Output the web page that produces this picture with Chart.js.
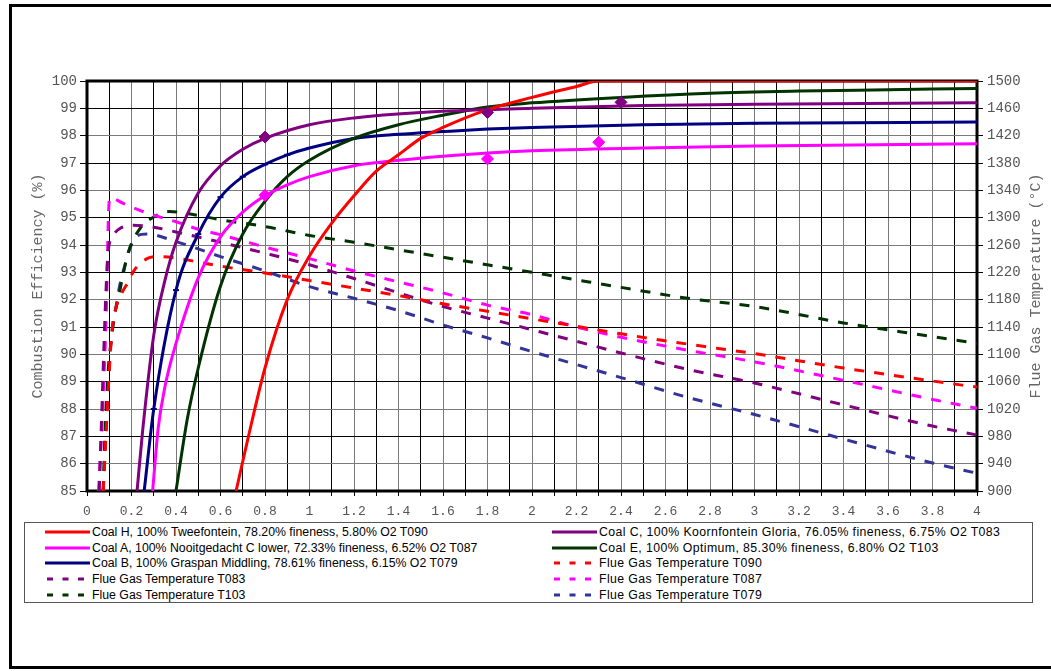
<!DOCTYPE html>
<html>
<head>
<meta charset="utf-8">
<script src="https://cdn.jsdelivr.net/npm/chart.js@4"></script>
<style>
html, body { margin: 0; padding: 0; background: #fff; overflow: hidden; }
#wrap { position: relative; width: 1051px; height: 671px; }
#frame { position: absolute; left: 9px; top: 4px; width: 1100px; height: 665px; border: 3px solid #000; box-sizing: border-box; pointer-events: none; }
#chart { position: absolute; left: 0; top: 0; }
#legend { position: absolute; left: 24px; top: 522px; width: 1009px; height: 81px; border: 1px solid #555; box-sizing: border-box;
  display: grid; grid-template-columns: 507px auto; grid-auto-rows: 15.6px; padding: 1.5px 0 0 20px;
  font: 12.3px "Liberation Sans", Arial, sans-serif; color: #000; background: #fff; }
.item { display: flex; align-items: center; white-space: nowrap; }
.item:nth-child(even) span { letter-spacing: 0.4px; }
.item svg { margin-right: 1px; flex: none; }
#rtitle { position: absolute; left: 1036px; top: 286px; transform: translate(-50%, -50%) rotate(-90deg);
  white-space: nowrap; font: 15px "Liberation Mono", "Courier New", monospace; color: #666; }
</style>
</head>
<body>
<div id="wrap">
  <canvas id="chart" width="1051" height="671"></canvas>
  <div id="legend"></div>
  <div id="rtitle">Flue Gas Temperature (°C)</div>
  <div id="frame"></div>
</div>
<script>
// Combustion efficiency (%) curves, left axis
const coalH_x = [0.67, 0.72, 0.8, 0.9, 1.0, 1.1, 1.2, 1.3, 1.4, 1.5, 1.6, 1.8, 2.0, 2.2, 2.3, 2.6, 3.0, 3.5, 4.0];
const coalH_y = [85, 86.8, 89.5, 92.0, 93.6, 94.8, 95.8, 96.7, 97.3, 97.9, 98.3, 98.95, 99.4, 99.8, 100, 100, 100, 100, 100];

const coalC_x = [0.225, 0.25, 0.3, 0.35, 0.4, 0.5, 0.6, 0.7, 0.8, 1.0, 1.2, 1.5, 2.0, 2.5, 3.0, 4.0];
const coalC_y = [85, 87.2, 90.7, 92.7, 94.1, 95.9, 96.9, 97.5, 97.9, 98.4, 98.65, 98.85, 99.0, 99.1, 99.15, 99.2];

const coalA_x = [0.295, 0.32, 0.35, 0.4, 0.5, 0.6, 0.7, 0.8, 0.9, 1.0, 1.2, 1.4, 1.6, 1.8, 2.0, 2.5, 3.0, 4.0];
const coalA_y = [85, 87.3, 88.8, 90.4, 92.8, 94.3, 95.2, 95.8, 96.2, 96.5, 96.9, 97.1, 97.25, 97.37, 97.45, 97.55, 97.62, 97.7];

const coalE_x = [0.4, 0.45, 0.5, 0.6, 0.7, 0.8, 0.9, 1.0, 1.2, 1.4, 1.6, 1.8, 2.0, 2.4, 2.8, 3.2, 3.6, 4.0];
const coalE_y = [85, 87.6, 89.5, 92.5, 94.4, 95.6, 96.5, 97.1, 97.9, 98.4, 98.75, 99.05, 99.2, 99.4, 99.55, 99.63, 99.68, 99.73];

const coalB_x = [0.257, 0.3, 0.4, 0.5, 0.6, 0.7, 0.8, 0.9, 1.0, 1.2, 1.4, 1.6, 1.8, 2.0, 2.5, 3.0, 4.0];
const coalB_y = [85, 88.0, 92.35, 94.4, 95.75, 96.5, 96.95, 97.3, 97.55, 97.9, 98.05, 98.15, 98.24, 98.3, 98.4, 98.45, 98.5];

// measured points (diamonds)
const coalC_pts_x = [0.8, 1.8, 2.4];
const coalC_pts_y = [97.95, 98.85, 99.22];
const coalA_pts_x = [0.8, 1.8, 2.3];
const coalA_pts_y = [95.82, 97.15, 97.76];

// Flue gas temperature (°C), right axis
const t090_x = [0.073, 0.085, 0.1, 0.112, 0.133, 0.16, 0.186, 0.21, 0.27, 0.32, 0.4, 0.5, 0.6, 0.8, 1.0, 1.2, 1.4, 1.6, 1.8, 2.0, 2.2, 2.4, 2.7, 3.0, 3.4, 3.8, 4.0];
const t090_y = [900, 980, 1075, 1133, 1172, 1192, 1206, 1222, 1240, 1243, 1241, 1235, 1229, 1219, 1208, 1197, 1186, 1174, 1163, 1152, 1141, 1130, 1115, 1101, 1080, 1061, 1052];

const t083_x = [0.055, 0.065, 0.075, 0.085, 0.095, 0.12, 0.148, 0.207, 0.3, 0.4, 0.6, 0.8, 1.0, 1.2, 1.4, 1.6, 1.8, 2.0, 2.2, 2.4, 2.7, 3.0, 3.4, 3.8, 4.0];
const t083_y = [900, 1000, 1100, 1190, 1250, 1275, 1284, 1289, 1286, 1279, 1264, 1248, 1231, 1211, 1190, 1170, 1153, 1136, 1119, 1102, 1078, 1058, 1026, 995, 982];

const t087_x = [0.052, 0.073, 0.088, 0.096, 0.103, 0.163, 0.268, 0.4, 0.5, 0.6, 0.8, 1.0, 1.2, 1.4, 1.6, 1.8, 2.0, 2.2, 2.4, 2.7, 3.0, 3.4, 3.8, 4.0];
const t087_y = [900, 1040, 1177, 1300, 1329, 1321, 1307, 1294, 1283, 1275, 1257, 1240, 1222, 1206, 1190, 1172, 1158, 1140, 1125, 1106, 1089, 1062, 1034, 1021];

const t103_x = [0.073, 0.081, 0.088, 0.096, 0.108, 0.118, 0.141, 0.163, 0.186, 0.238, 0.3, 0.37, 0.45, 0.6, 0.8, 1.0, 1.2, 1.4, 1.6, 1.8, 2.0, 2.2, 2.4, 2.7, 3.0, 3.4, 3.8, 4.0];
const t103_y = [900, 987, 1036, 1080, 1118, 1148, 1182, 1218, 1250, 1284, 1301, 1309, 1306, 1297, 1287, 1274, 1264, 1253, 1242, 1231, 1220, 1209, 1198, 1182, 1170, 1146, 1126, 1116];

const t079_x = [0.072, 0.081, 0.09, 0.103, 0.126, 0.148, 0.171, 0.193, 0.22, 0.27, 0.4, 0.6, 0.8, 1.0, 1.2, 1.4, 1.6, 1.8, 2.0, 2.2, 2.4, 2.7, 3.0, 3.4, 3.8, 4.0];
const t079_y = [900, 960, 1020, 1100, 1160, 1202, 1231, 1255, 1272, 1276, 1265, 1243, 1222, 1199, 1182, 1164, 1143, 1124, 1104, 1085, 1066, 1037, 1012, 976, 941, 926];

const mono = '"Liberation Mono", "Courier New", monospace';

function pts(xs, ys) {
    return xs.map((x, i) => ({ x: x, y: ys[i] }));
}

function solid(label, xs, ys, color) {
    return {
        label: label, data: pts(xs, ys), yAxisID: 'y',
        borderColor: color, backgroundColor: color, borderWidth: 3,
        pointRadius: 0, cubicInterpolationMode: 'monotone', order: 1
    };
}

function dashed(label, xs, ys, color) {
    return {
        label: label, data: pts(xs, ys), yAxisID: 'y2',
        borderColor: color, backgroundColor: color, borderWidth: 3, borderDash: [10, 10],
        pointRadius: 0, cubicInterpolationMode: 'monotone', order: 2, dashed: true
    };
}

function diamonds(xs, ys, color) {
    return {
        label: '', data: pts(xs, ys), yAxisID: 'y', showLine: false,
        pointStyle: 'rectRot', pointRadius: 6, pointBackgroundColor: color, pointBorderColor: color,
        order: 0, noLegend: true
    };
}

const coalB = solid('Coal B, 100% Graspan Middling, 78.61% fineness, 6.15% O2 T079', coalB_x, coalB_y, '#000080');
coalB.pointRadius = 3;
coalB.pointStyle = 'line';
coalB.pointBorderWidth = 2;
coalB.pointBorderColor = '#000080';

const datasets = [
    solid('Coal H, 100% Tweefontein, 78.20% fineness, 5.80% O2 T090', coalH_x, coalH_y, '#ff0000'),
    solid('Coal C, 100% Koornfontein Gloria, 76.05% fineness, 6.75% O2 T083', coalC_x, coalC_y, '#800080'),
    solid('Coal A, 100% Nooitgedacht C lower, 72.33% fineness, 6.52% O2 T087', coalA_x, coalA_y, '#ff00ff'),
    solid('Coal E, 100% Optimum, 85.30% fineness, 6.80% O2 T103', coalE_x, coalE_y, '#003300'),
    coalB,
    dashed('Flue Gas Temperature T090', t090_x, t090_y, '#ff0000'),
    dashed('Flue Gas Temperature T083', t083_x, t083_y, '#800080'),
    dashed('Flue Gas Temperature T087', t087_x, t087_y, '#ff00ff'),
    dashed('Flue Gas Temperature T103', t103_x, t103_y, '#003300'),
    dashed('Flue Gas Temperature T079', t079_x, t079_y, '#333399'),
    diamonds(coalC_pts_x, coalC_pts_y, '#800080'),
    diamonds(coalA_pts_x, coalA_pts_y, '#ff00ff')
];

const plotFrame = {
    id: 'plotFrame',
    beforeDatasetsDraw(chart) {
        const { ctx, chartArea: a } = chart;
        ctx.save();
        ctx.strokeStyle = '#000';
        ctx.lineWidth = 3;
        ctx.strokeRect(a.left, a.top, a.right - a.left, a.bottom - a.top);
        ctx.restore();
    }
};

new Chart(document.getElementById('chart'), {
    type: 'line',
    data: { datasets: datasets },
    plugins: [plotFrame],
    options: {
        responsive: false,
        animation: false,
        layout: { padding: { left: 0, right: 0, top: 81, bottom: 150 } },
        plugins: { legend: { display: false }, tooltip: { enabled: false } },
        scales: {
            x: {
                type: 'linear', min: 0, max: 4,
                afterFit(s) { s.height = 30; },
                border: { display: false },
                grid: {
                    color: (c) => Math.round(c.tick.value * 10) % 2 === 0 ? '#7a7a7a' : '#000',
                    tickColor: '#000', tickLength: 5
                },
                ticks: {
                    stepSize: 0.1, autoSkip: false, maxRotation: 0, padding: 8,
                    color: '#555', font: { family: mono, size: 13 },
                    callback(v) {
                        const t = Math.round(v * 10);
                        return t % 2 === 0 ? String(t / 10) : '';
                    }
                }
            },
            y: {
                position: 'left', min: 85, max: 100,
                afterFit(s) { s.width = 87; },
                border: { display: false },
                grid: {
                    color: (c) => Math.round(c.tick.value) % 2 === 0 ? '#7a7a7a' : '#000',
                    tickColor: '#000', tickLength: 7
                },
                ticks: { stepSize: 1, padding: 3, color: '#555', font: { family: mono, size: 14 } },
                title: {
                    display: true, text: 'Combustion Efficiency (%)', color: '#666',
                    font: { family: mono, size: 15 }, padding: { top: 29, bottom: 0 }
                }
            },
            y2: {
                position: 'right', min: 900, max: 1500,
                afterFit(s) { s.width = 74; },
                border: { display: false },
                grid: { drawOnChartArea: false, color: '#000', tickLength: 6 },
                ticks: {
                    stepSize: 40, padding: 4, color: '#555', font: { family: mono, size: 14 },
                    callback(v) { return String(v); }
                }
            }
        }
    }
});

// legend: two columns, same order as the datasets
const legend = document.getElementById('legend');
datasets.filter(d => !d.noLegend).forEach(d => {
    const item = document.createElement('div');
    item.className = 'item';
    const dash = d.dashed ? ' stroke-dasharray="6,9.5"' : '';
    const x1 = d.dashed ? 2 : 0;
    item.innerHTML = '<svg width="46" height="8"><line x1="' + x1 + '" y1="4" x2="45" y2="4" stroke="' +
        d.borderColor + '" stroke-width="3"' + dash + '/></svg><span></span>';
    item.querySelector('span').textContent = d.label;
    legend.appendChild(item);
});
</script>
</body>
</html>
